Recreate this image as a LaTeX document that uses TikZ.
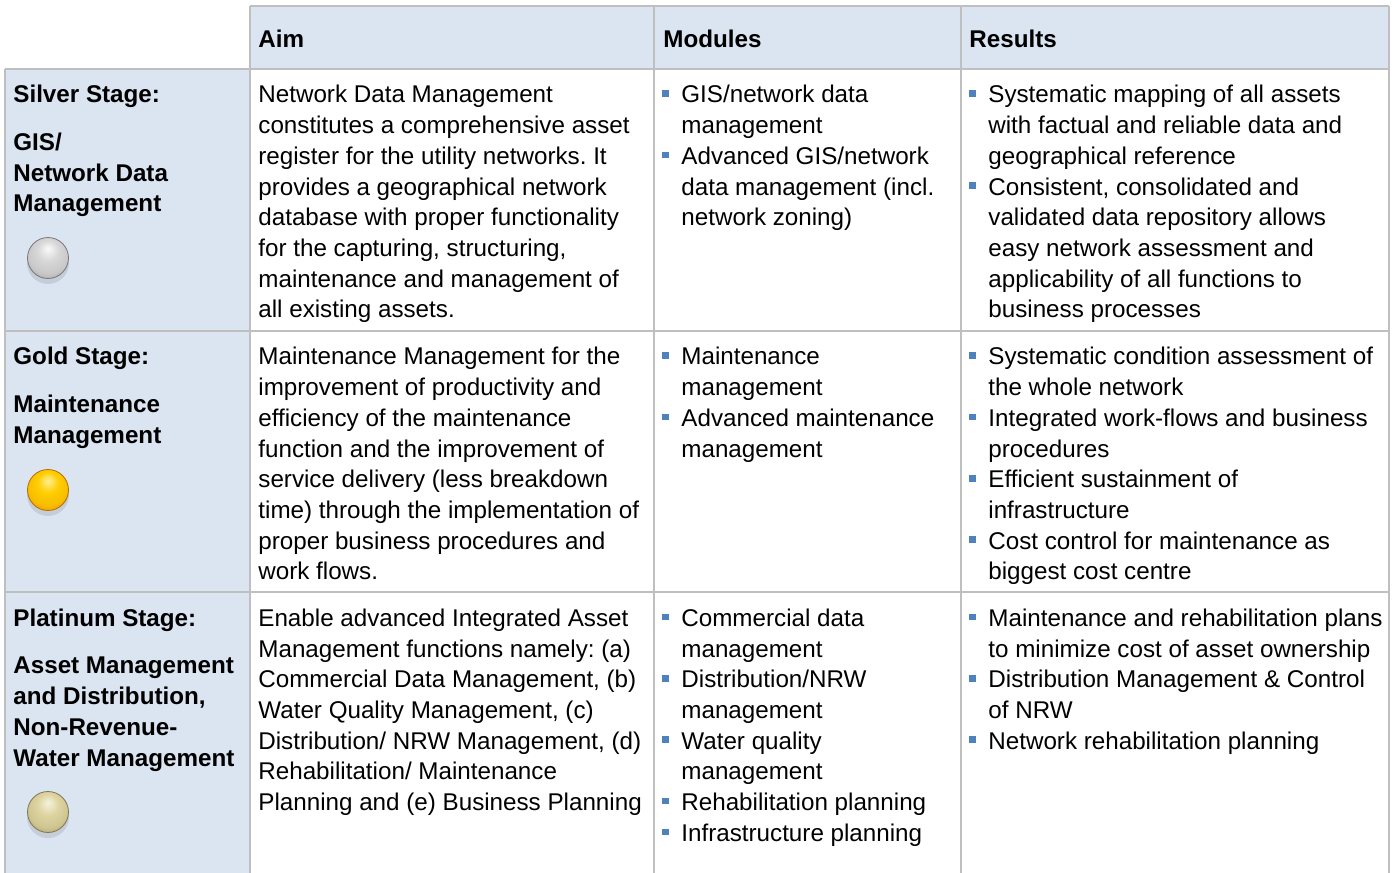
\documentclass[tikz,border=0pt]{standalone}
\usepackage{fontspec}
\setmainfont{Liberation Sans}
\usetikzlibrary{shadings}
\definecolor{hdr}{RGB}{219,229,241}
\definecolor{grid}{RGB}{191,191,191}
\definecolor{bulc}{RGB}{79,129,189}
\definecolor{sA}{RGB}{250,250,250}\definecolor{sB}{RGB}{215,215,215}\definecolor{sC}{RGB}{165,165,165}\definecolor{sD}{RGB}{120,120,120}
\definecolor{gA}{RGB}{255,240,150}\definecolor{gB}{RGB}{255,205,0}\definecolor{gC}{RGB}{230,150,0}\definecolor{gD}{RGB}{180,110,0}
\definecolor{pA}{RGB}{245,242,220}\definecolor{pB}{RGB}{222,212,162}\definecolor{pC}{RGB}{172,162,108}\definecolor{pD}{RGB}{130,120,80}
\pgfdeclareradialshading{silversph}{\pgfqpoint{0bp}{12bp}}{color(0bp)=(sA); color(13bp)=(sB); color(25bp)=(sB!70!sC); color(34bp)=(sC); color(50bp)=(sD)}
\pgfdeclareradialshading{goldsph}{\pgfqpoint{0bp}{12bp}}{color(0bp)=(gA); color(13bp)=(gB); color(25bp)=(gB!70!gC); color(34bp)=(gC); color(50bp)=(gD)}
\pgfdeclareradialshading{platsph}{\pgfqpoint{0bp}{12bp}}{color(0bp)=(pA); color(13bp)=(pB); color(25bp)=(pB!70!pC); color(34bp)=(pC); color(50bp)=(pD)}
\newcommand\fl{\rule{0pt}{10pt}}
\newcommand\blt{\makebox[9.5pt][l]{\textcolor{bulc}{\rule[3.1pt]{3.3pt}{3.3pt}}}}
\newcommand\ind{\hspace*{9.5pt}}
\frenchspacing
\tikzset{
  cell/.style={anchor=north west, inner sep=0pt, align=left, font=\fontsize{12.1}{15.35}\selectfont},
  bcell/.style={cell, font=\fontsize{12.1}{15.35}\selectfont\bfseries},
  gridline/.style={draw=grid, line width=1pt},
  sph/.style={circle, minimum size=20.5pt, inner sep=0pt, line width=0.4pt},
  shadowc/.style={circle, minimum size=21pt, inner sep=0pt, fill=black, opacity=0.10}
}
\begin{document}
\begin{tikzpicture}[x=0.5pt,y=-0.5pt]
\useasboundingbox (0,0) rectangle (1394,873);
% fills
\fill[hdr] (250,6) rectangle (1389,69);
\fill[hdr] (5,69) rectangle (250,873);
% grid
\draw[gridline] (250,6) -- (1389,6);
\draw[gridline] (5,69) -- (1389,69);
\draw[gridline] (5,331) -- (1389,331);
\draw[gridline] (5,592) -- (1389,592);
\draw[gridline] (5,69) -- (5,873);
\draw[gridline] (250,6) -- (250,873);
\draw[gridline] (654,6) -- (654,873);
\draw[gridline] (961,6) -- (961,873);
\draw[gridline] (1389,6) -- (1389,873);
% header
\node[bcell] (hAim) at (258,27.5) {\fl Aim};
\node[bcell] (hMod) at (663,27.5) {\fl Modules};
\node[bcell] (hRes) at (969,27.5) {\fl Results};
% row 1
\node[bcell] (l1) at (13,82.5) {\fl Silver Stage:\\[8.4pt]GIS/\\Network Data\\Management};
\node[shadowc] (sh1) at (48,263) {};
\node[sph, shading=silversph, draw=sD] (s1) at (48,258) {};
\node[cell] (a1) at (258,82.5) {\fl Network Data Management\\constitutes a comprehensive asset\\register for the utility networks. It\\provides a geographical network\\database with proper functionality\\for the capturing, structuring,\\maintenance and management of\\all existing assets.};
\node[cell] (m1) at (662,82.5) {\fl\blt GIS/network data\\\ind management\\\blt Advanced GIS/network\\\ind data management (incl.\\\ind network zoning)};
\node[cell] (r1) at (969,82.5) {\fl\blt Systematic mapping of all assets\\\ind with factual and reliable data and\\\ind geographical reference\\\blt Consistent, consolidated and\\\ind validated data repository allows\\\ind easy network assessment and\\\ind applicability of all functions to\\\ind business processes};
% row 2
\node[bcell] (l2) at (13,344.5) {\fl Gold Stage:\\[8.4pt]Maintenance\\Management};
\node[shadowc] (sh2) at (48,495) {};
\node[sph, shading=goldsph, draw=gD] (s2) at (48,490) {};
\node[cell] (a2) at (258,344.5) {\fl Maintenance Management for the\\improvement of productivity and\\efficiency of the maintenance\\function and the improvement of\\service delivery (less breakdown\\time) through the implementation of\\proper business procedures and\\work flows.};
\node[cell] (m2) at (662,344.5) {\fl\blt Maintenance\\\ind management\\\blt Advanced maintenance\\\ind management};
\node[cell] (r2) at (969,344.5) {\fl\blt Systematic condition assessment of\\\ind the whole network\\\blt Integrated work-flows and business\\\ind procedures\\\blt Efficient sustainment of\\\ind infrastructure\\\blt Cost control for maintenance as\\\ind biggest cost centre};
% row 3
\node[bcell] (l3) at (13,606) {\fl Platinum Stage:\\[8.4pt]Asset Management\\and Distribution,\\Non-Revenue-\\Water Management};
\node[shadowc] (sh3) at (48,817) {};
\node[sph, shading=platsph, draw=pD] (s3) at (48,812) {};
\node[cell] (a3) at (258,606) {\fl Enable advanced Integrated Asset\\Management functions namely: (a)\\Commercial Data Management, (b)\\Water Quality Management, (c)\\Distribution/ NRW Management, (d)\\Rehabilitation/ Maintenance\\Planning and (e) Business Planning};
\node[cell] (m3) at (662,606) {\fl\blt Commercial data\\\ind management\\\blt Distribution/NRW\\\ind management\\\blt Water quality\\\ind management\\\blt Rehabilitation planning\\\blt Infrastructure planning};
\node[cell] (r3) at (969,606) {\fl\blt Maintenance and rehabilitation plans\\\ind to minimize cost of asset ownership\\\blt Distribution Management \& Control\\\ind of NRW\\\blt Network rehabilitation planning};
\end{tikzpicture}
\end{document}
